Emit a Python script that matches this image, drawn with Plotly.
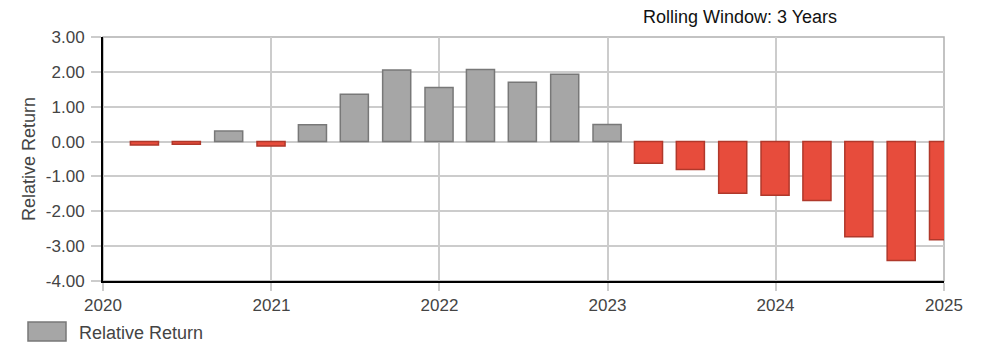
import plotly.graph_objects as go

dates = ["2020-03-31", "2020-06-30", "2020-09-30", "2020-12-31",
         "2021-03-31", "2021-06-30", "2021-09-30", "2021-12-31",
         "2022-03-31", "2022-06-30", "2022-09-30", "2022-12-31",
         "2023-03-31", "2023-06-30", "2023-09-30", "2023-12-31",
         "2024-03-31", "2024-06-30", "2024-09-30", "2024-12-31"]
values = [-0.10, -0.08, 0.30, -0.13, 0.48, 1.36, 2.05, 1.55, 2.07, 1.70,
          1.93, 0.49, -0.62, -0.80, -1.48, -1.54, -1.69, -2.73, -3.41, -2.82]
y_ticks = [3, 2, 1, 0, -1, -2, -3, -4]
y_labels = ["3.00", "2.00", "1.00", "0.00", "-1.00", "-2.00", "-3.00", "-4.00"]
x_ticks = ["2020-01-01", "2021-01-01", "2022-01-01", "2023-01-01", "2024-01-01", "2025-01-01"]
x_labels = ["2020", "2021", "2022", "2023", "2024", "2025"]
series_name = "Relative Return"
title_text = "Rolling Window: 3 Years"

GRAY_FILL = "#a6a6a6"
GRAY_LINE = "#787878"
RED_FILL = "#e74c3c"
RED_LINE = "#b0382b"

fills = [GRAY_FILL if v >= 0 else RED_FILL for v in values]
lines = [GRAY_LINE if v >= 0 else RED_LINE for v in values]

fig = go.Figure()
fig.add_trace(go.Bar(
    x=dates, y=values, name=series_name,
    marker=dict(color=fills, line=dict(color=lines, width=1.5)),
    width=61 * 86400000,
    showlegend=False,
))

FONT = "Liberation Sans, Arial, sans-serif"

# page body has an 8px margin; plot area in screen px: x 103..944, y 37..281
L, R, T, B = 95, 48, 29, 78
PW = 984 - L - R
PH = 351 - T - B

def px_x(sx):
    return (sx - 8 - L) / PW

def px_y(sy):
    return (351 - B - (sy - 8)) / PH

fig.update_layout(
    width=984, height=351,
    margin=dict(l=L, r=R, t=T, b=B),
    paper_bgcolor="white", plot_bgcolor="white",
    font=dict(family=FONT, size=17, color="#444"),
    title=dict(text=title_text, x=(740 - 8) / 984, xanchor="center", xref="container",
               y=1 - (17 - 8) / 351, yanchor="middle", yref="container",
               font=dict(family=FONT, size=18, color="#111")),
    xaxis=dict(
        type="date", range=["2020-01-01", "2025-01-01"],
        tickvals=x_ticks, ticktext=x_labels,
        showgrid=True, gridcolor="#cccccc", gridwidth=1.5,
        showline=True, linecolor="#000", linewidth=2,
        ticks="outside", ticklen=8, tickcolor="#cccccc", tickwidth=1.5,
        tickfont=dict(size=17, color="#444"),
        zeroline=False, fixedrange=True,
    ),
    yaxis=dict(
        range=[-4, 3], tickvals=y_ticks, ticktext=y_labels,
        showgrid=True, gridcolor="#cccccc", gridwidth=1.5,
        showline=True, linecolor="#000", linewidth=2,
        ticks="outside", ticklen=10, tickcolor="#cccccc", tickwidth=1.5,
        ticklabelstandoff=3,
        tickfont=dict(size=17, color="#444"),
        title=dict(text=series_name, font=dict(size=18, color="#444"), standoff=6),
        zeroline=False, fixedrange=True,
    ),
    shapes=[
        dict(type="rect", xref="paper", yref="paper", x0=0, x1=1, y0=0, y1=1,
             line=dict(color="#b0b0b0", width=1.5), layer="below"),
        dict(type="rect", xref="paper", yref="paper",
             x0=px_x(28), x1=px_x(66), y0=px_y(322), y1=px_y(341),
             fillcolor=GRAY_FILL, line=dict(color=GRAY_LINE, width=1.5)),
    ],
    annotations=[
        dict(text=series_name, xref="paper", yref="paper",
             x=px_x(77), y=px_y(333),
             xanchor="left", yanchor="middle", showarrow=False,
             font=dict(family=FONT, size=18, color="#444")),
    ],
)

fig.write_html("out.html")
